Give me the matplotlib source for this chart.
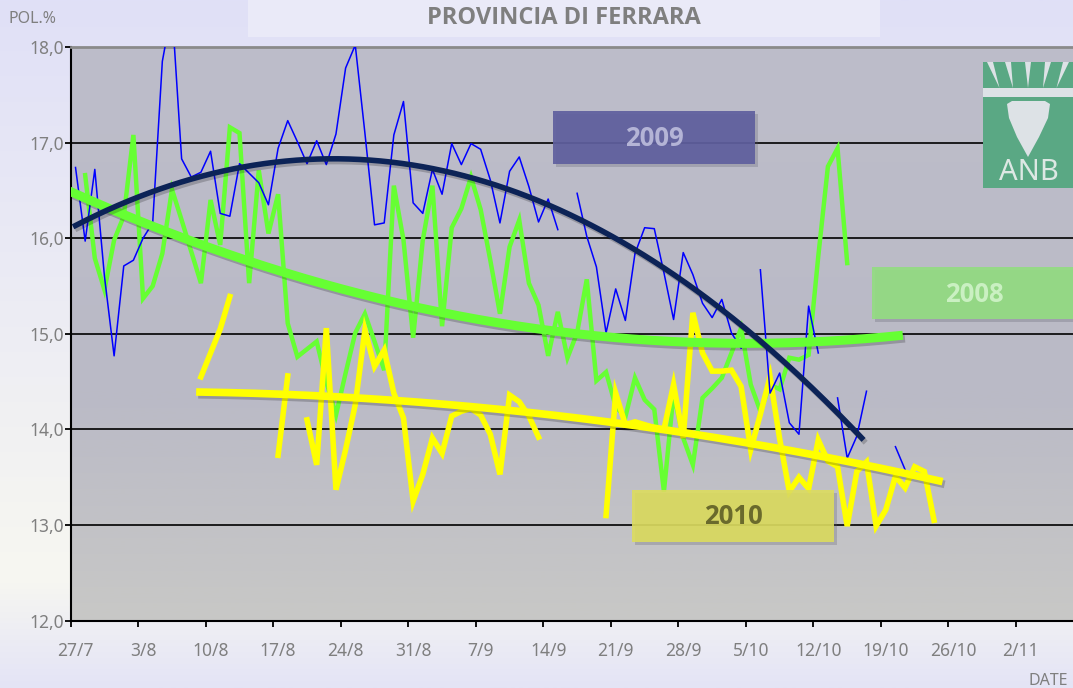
import numpy as np
import matplotlib.pyplot as plt
from matplotlib import patheffects as pe
from matplotlib.patches import Rectangle, Polygon

nan = np.nan

# daily POL.% readings, index 0 = 27/7
start_2009 = 0
pol_2009 = [16.74, 15.97, 16.72, 15.60, 14.77, 15.71, 15.77, 16.00, 16.16, 17.85,
            18.40, 16.83, 16.64, 16.69, 16.91, 16.26, 16.23, 16.78, 16.68, 16.58,
            16.35, 16.94, 17.23, 17.01, 16.78, 17.02, 16.77, 17.09, 17.78, 18.02,
            17.10, 16.14, 16.16, 17.08, 17.43, 16.37, 16.26, 16.72, 16.46, 16.99,
            16.77, 16.99, 16.93, 16.61, 16.16, 16.70, 16.85, 16.54, 16.17, 16.41,
            16.09, nan, 16.47, 16.02, 15.70, 15.01, 15.47, 15.14, 15.84, 16.11,
            16.10, 15.64, 15.15, 15.85, 15.62, 15.32, 15.17, 15.36, 15.01, 14.85,
            nan, 15.67, 14.38, 14.59, 14.07, 13.95, 15.29, 14.80, nan, 14.33,
            13.70, 13.93, 14.40, nan, nan, 13.82, 13.58]

start_2008 = 1
pol_2008 = [16.66, 15.79, 15.46, 15.98, 16.23, 17.08, 15.37, 15.50, 15.84, 16.51,
            16.19, 15.86, 15.53, 16.40, 15.93, 17.16, 17.10, 15.53, 16.71, 16.05,
            16.46, 15.11, 14.76, 14.84, 14.92, 14.50, 14.15, 14.59, 15.01, 15.21,
            14.92, 14.62, 16.55, 15.98, 14.96, 15.98, 16.55, 15.08, 16.11, 16.31,
            16.64, 16.30, 15.77, 15.21, 15.91, 16.19, 15.53, 15.30, 14.77, 15.23,
            14.75, 15.01, 15.57, 14.51, 14.60, 14.24, 14.13, 14.54, 14.31, 14.21,
            13.35, 14.38, 13.91, 13.63, 14.33, 14.43, 14.54, 14.80, 15.06, 14.47,
            14.19, 14.47, 14.42, 14.75, 14.73, 14.78, 15.81, 16.75, 16.94, 15.74]

start_2010 = 13
pol_2010 = [14.55, 14.80, 15.05, 15.39, nan, nan, nan, nan, 13.73, 14.56,
            nan, 14.10, 13.63, 15.06, 13.37, 13.79, 14.26, 15.04, 14.66, 14.83,
            14.38, 14.12, 13.25, 13.53, 13.91, 13.75, 14.14, 14.19, 14.22, 14.15,
            13.95, 13.53, 14.36, 14.29, 14.14, 13.92, nan, nan, nan, nan,
            nan, nan, 13.10, 14.38, 14.05, 14.08, 14.05, 14.02, 14.00, 14.47,
            13.91, 15.22, 14.80, 14.61, 14.61, 14.62, 14.45, 13.79, 14.16, 14.55,
            13.90, 13.35, 13.50, 13.38, 13.89, 13.67, 13.61, 12.99, 13.56, 13.66,
            12.99, 13.16, 13.51, 13.39, 13.61, 13.56, 13.05]

# range covered by each Excel trendline (days from 27/7)
span_2008 = (-0.5, 85.3)
span_2009 = (0.0, 81.5)
span_2010 = (12.9, 89.5)

tick_labels = ['27/7', '3/8', '10/8', '17/8', '24/8', '31/8', '7/9', '14/9',
               '21/9', '28/9', '5/10', '12/10', '19/10', '26/10', '2/11']
y_values = [12, 13, 14, 15, 16, 17, 18]
y_labels = ['12,0', '13,0', '14,0', '15,0', '16,0', '17,0', '18,0']

W, H = 1073, 688
GRAY = '#7f7f7f'
BOLD_FONT = ['Open Sans', 'DejaVu Sans']


def fx(x):
    return x / W


def fy(y):
    return 1 - y / H


def series(start, vals):
    v = np.array(vals, dtype=float)
    return start + np.arange(len(v)), v


def trend(start, vals, span, deg=2):
    x, v = series(start, vals)
    m = ~np.isnan(v)
    c = np.polyfit(x[m], v[m], deg)
    xs = np.linspace(span[0], span[1], 300)
    return xs, np.polyval(c, xs)


def gradient(stops, n=256):
    pos = np.array([s[0] for s in stops])
    cols = np.array([s[1] for s in stops], dtype=float) / 255
    t = np.linspace(0, 1, n)
    img = np.stack([np.interp(t, pos, cols[:, i]) for i in range(3)], axis=1)
    return img[:, None, :]


plt.rcParams['font.family'] = ['Noto Sans', 'DejaVu Sans']

fig = plt.figure(figsize=(W / 100, H / 100), dpi=100)

# page background
bg = fig.add_axes([0, 0, 1, 1])
bg.imshow(gradient([(0, (224, 224, 247)), (0.84, (247, 247, 241)), (1, (228, 228, 246))]),
          aspect='auto', extent=[0, 1, 0, 1])
bg.axis('off')
bg.set_zorder(-5)

# title box
fig.add_artist(Rectangle((fx(248), fy(37)), fx(880) - fx(248), fy(0) - fy(37),
                         transform=fig.transFigure, color='#eaeaf8', lw=0, zorder=0.5))
fig.text(fx(564), fy(18), 'PROVINCIA DI FERRARA', ha='center', va='center',
         fontsize=17, fontweight='bold', color=GRAY, family=BOLD_FONT)
fig.text(fx(9), fy(19), 'POL.%', ha='left', va='center', fontsize=11.5, color=GRAY)
fig.text(fx(1068), fy(681), 'DATE', ha='right', va='center', fontsize=11.5, color=GRAY)

ax = fig.add_axes([fx(70.7), fy(620.7), fx(1073) - fx(70.7), fy(47) - fy(620.7)])
ax.patch.set_alpha(0)
ax.imshow(gradient([(0, (189, 189, 202)), (0.6, (186, 186, 198)), (1, (200, 200, 198))]),
          aspect='auto', extent=[0, 1, 0, 1], transform=ax.transAxes, zorder=0)

x08, v08 = series(start_2008, pol_2008)
x09, v09 = series(start_2009, pol_2009)
x10, v10 = series(start_2010, pol_2010)

ax.plot(x08, v08, color='#66ff33', lw=3.2, zorder=3, solid_joinstyle='miter')
ax.plot(x10, v10, color='#ffff00', lw=4.0, zorder=3.1, solid_joinstyle='miter')
ax.plot(x09, v09, color='#0000ff', lw=1.1, zorder=3.2)

shadow = [pe.SimpleLineShadow(offset=(1.5, -2), alpha=0.2), pe.Normal()]
tx, ty = trend(start_2010, pol_2010, span_2010)
ax.plot(tx, ty, color='#ffff00', lw=5.5, zorder=4, path_effects=shadow)
tx, ty = trend(start_2008, pol_2008, span_2008)
ax.plot(tx, ty, color='#66ff33', lw=6.5, zorder=4.1, path_effects=shadow)
tx, ty = trend(start_2009, pol_2009, span_2009)
ax.plot(tx, ty, color='#0c2357', lw=4.0, zorder=4.2, path_effects=shadow)

ax.set_xlim(-0.5, (W - 70.7) / 9.646 - 0.5)
ax.set_ylim(12, 18)

ax.set_xticks(np.arange(len(tick_labels)) * 7 - 0.5, [''] * len(tick_labels))
ax.set_xticks(np.arange(len(tick_labels)) * 7, tick_labels, minor=True)
ax.tick_params(axis='x', which='major', direction='out', length=4.5, width=1.3, color='black')
ax.tick_params(axis='x', which='minor', length=0, pad=15, labelsize=12.5, labelcolor=GRAY)
ax.set_yticks(y_values, y_labels)
ax.tick_params(axis='y', direction='out', length=4, width=1.3, color='black', pad=1,
               labelsize=12.5, labelcolor=GRAY)

ax.grid(axis='y', color='black', lw=1.2)
ax.set_axisbelow('line')
for s in ['left', 'bottom']:
    ax.spines[s].set_color('black')
    ax.spines[s].set_linewidth(1.5)
ax.spines['right'].set_visible(False)
ax.spines['top'].set_color('#8a8a8a')
ax.spines['top'].set_linewidth(2)


def label_box(x0, y0, x1, y1, face, text, tcolor, alpha=0.92):
    fig.add_artist(Rectangle((fx(x0 + 3), fy(y1 + 3)), fx(x1) - fx(x0), fy(y0) - fy(y1),
                             transform=fig.transFigure, color='#555566', alpha=0.25, lw=0, zorder=2))
    fig.add_artist(Rectangle((fx(x0), fy(y1)), fx(x1) - fx(x0), fy(y0) - fy(y1),
                             transform=fig.transFigure, color=face, alpha=alpha, lw=0, zorder=2.1))
    fig.text(fx((x0 + x1) / 2), fy((y0 + y1) / 2 + 1), text, ha='center', va='center',
             fontsize=18.5, fontweight='bold', color=tcolor, zorder=2.2, family=BOLD_FONT)


label_box(553, 111, 755, 164, '#5f5f9e', '2009', '#b4b4d6')
label_box(872, 267, 1076, 319, '#93dc82', '2008', '#caf0c2')
label_box(632, 490, 834, 542, '#dcdc5e', '2010', '#6a6a2c', alpha=0.9)

# ANB logo
logo_green = '#5aa884'
logo_white = '#dde2e6'
fig.add_artist(Rectangle((fx(983), fy(188)), fx(1073) - fx(983), fy(62) - fy(188),
                         transform=fig.transFigure, color=logo_green, lw=0, zorder=2))
fig.add_artist(Rectangle((fx(983), fy(97)), fx(1073) - fx(983), fy(88) - fy(97),
                         transform=fig.transFigure, color=logo_white, lw=0, zorder=2.1))
for rx in [990, 1008, 1028, 1048, 1066]:
    fig.add_artist(Polygon([(fx(rx - 3), fy(62)), (fx(rx + 3), fy(62)),
                            (fx(1028 + (rx - 1028) * 0.75), fy(88))],
                           closed=True, transform=fig.transFigure, color=logo_white, lw=0, zorder=2.1))
fig.add_artist(Polygon([(fx(1007), fy(104)), (fx(1012), fy(101)), (fx(1045), fy(101)),
                        (fx(1050), fy(104)), (fx(1048), fy(118)), (fx(1039), fy(137)),
                        (fx(1028), fy(157)), (fx(1017), fy(137)), (fx(1009), fy(118))],
                       closed=True, transform=fig.transFigure, color=logo_white, lw=0, zorder=2.1))
fig.text(fx(1029), fy(172), 'ANB', ha='center', va='center', fontsize=21,
         color='#dde8e4', zorder=2.2)

fig.savefig('out.png', dpi=100)
